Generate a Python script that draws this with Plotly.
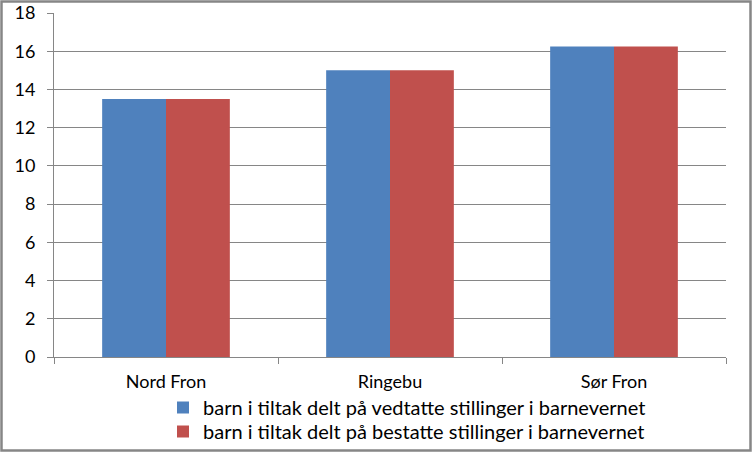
import plotly.graph_objects as go

categories = ["Nord Fron", "Ringebu", "Sør Fron"]
series_vedtatte = [13.5, 15.0, 16.25]
series_bestatte = [13.5, 15.0, 16.25]
series_names = [
    "barn i tiltak delt på vedtatte stillinger i barnevernet",
    "barn i tiltak delt på bestatte stillinger i barnevernet",
]
y_ticks = [0, 2, 4, 6, 8, 10, 12, 14, 16, 18]

W, H = 752, 452
ml, mr, mt, mb = 54, 26, 13, 95
pw, ph = W - ml - mr, H - mt - mb

fig = go.Figure()
fig.add_trace(go.Bar(x=categories, y=series_vedtatte, name=series_names[0],
                     marker=dict(color="#4F81BD", line=dict(width=0)), legend="legend"))
fig.add_trace(go.Bar(x=categories, y=series_bestatte, name=series_names[1],
                     marker=dict(color="#C0504D", line=dict(width=0)), legend="legend2"))

font = "Lato, 'Open Sans', sans-serif"
leg_common = dict(orientation="v", xref="container", yref="container",
                  x=163 / W, xanchor="left", yanchor="top",
                  font=dict(size=20), itemwidth=30, bgcolor="rgba(0,0,0,0)")
fig.update_layout(
    width=W, height=H,
    margin=dict(l=ml, r=mr, t=mt, b=mb, autoexpand=False),
    paper_bgcolor="white", plot_bgcolor="white",
    barmode="group", bargap=0.43, bargroupgap=0,
    font=dict(family=font, size=18, color="black"),
    showlegend=True,
    legend=dict(leg_common, y=1 - 388 / H),
    legend2=dict(leg_common, y=1 - 412 / H),
    xaxis=dict(type="category", tickson="boundaries", ticks="outside", ticklen=6,
               tickcolor="#868686", showline=True, linecolor="#868686", linewidth=1,
               showgrid=False, tickfont=dict(size=18), ticklabelstandoff=8),
    yaxis=dict(range=[0, 18], tickvals=y_ticks, ticks="outside", ticklen=6,
               tickcolor="#868686", showline=True, linecolor="#868686", linewidth=1,
               showgrid=True, gridcolor="#868686", gridwidth=1, zeroline=False,
               tickfont=dict(size=18), ticklabelstandoff=8),
    shapes=[dict(type="rect", xref="paper", yref="paper",
                 x0=(1.5 - ml) / pw, x1=(W - 1.5 - ml) / pw,
                 y0=-(H - 1.5 - mt - ph) / ph, y1=1 + (mt - 1.5) / ph,
                 line=dict(color="#868686", width=2.5), layer="above")],
)
fig.write_html("out.html")
